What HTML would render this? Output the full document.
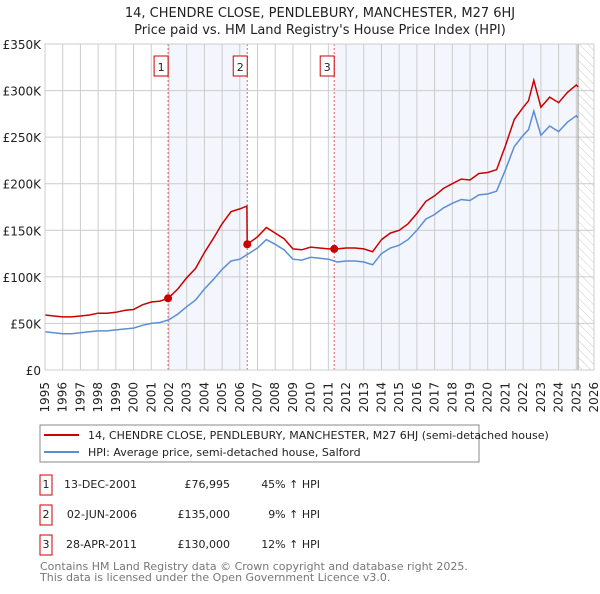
<!DOCTYPE html>
<html><head><meta charset="utf-8"><style>
body{margin:0;background:#fff;font-family:"DejaVu Sans","Liberation Sans",sans-serif;}
svg text{font-family:"DejaVu Sans","Liberation Sans",sans-serif;}
</style></head><body>
<svg id="c" width="600" height="590" xmlns="http://www.w3.org/2000/svg">
<text x="320" y="17" text-anchor="middle" font-size="13" fill="#222">14, CHENDRE CLOSE, PENDLEBURY, MANCHESTER, M27 6HJ</text>
<text x="320" y="34" text-anchor="middle" font-size="13" fill="#222">Price paid vs. HM Land Registry's House Price Index (HPI)</text>
<g id="plot"></g>
<g>
<rect x="40" y="425" width="439" height="37" fill="#fff" stroke="#888"/>
<line x1="44" y1="435" x2="79" y2="435" stroke="#cc0000" stroke-width="2"/>
<text x="88" y="439" font-size="11" fill="#222">14, CHENDRE CLOSE, PENDLEBURY, MANCHESTER, M27 6HJ (semi-detached house)</text>
<line x1="44" y1="452" x2="79" y2="452" stroke="#5b8fd4" stroke-width="2"/>
<text x="88" y="456" font-size="11" fill="#222">HPI: Average price, semi-detached house, Salford</text>
</g>
<g font-size="11" fill="#222">
<rect x="40" y="475" width="12" height="20" fill="#fff" stroke="#cc0000"/><text x="46" y="488" text-anchor="middle">1</text>
<text x="137" y="488" text-anchor="end">13-DEC-2001</text><text x="230" y="488" text-anchor="end">£76,995</text><text x="320" y="488" text-anchor="end">45% ↑ HPI</text>
<rect x="40" y="505" width="12" height="20" fill="#fff" stroke="#cc0000"/><text x="46" y="518" text-anchor="middle">2</text>
<text x="137" y="518" text-anchor="end">02-JUN-2006</text><text x="230" y="518" text-anchor="end">£135,000</text><text x="320" y="518" text-anchor="end">9% ↑ HPI</text>
<rect x="40" y="535" width="12" height="20" fill="#fff" stroke="#cc0000"/><text x="46" y="548" text-anchor="middle">3</text>
<text x="137" y="548" text-anchor="end">28-APR-2011</text><text x="230" y="548" text-anchor="end">£130,000</text><text x="320" y="548" text-anchor="end">12% ↑ HPI</text>
</g>
<text x="40" y="570" font-size="11" fill="#777">Contains HM Land Registry data © Crown copyright and database right 2025.</text>
<text x="40" y="581" font-size="11" fill="#777">This data is licensed under the Open Government Licence v3.0.</text>
</svg>
<script>
const yearsT=[1995,1995.5,1996,1996.5,1997,1997.5,1998,1998.5,1999,1999.5,2000,2000.5,2001,2001.5,2002,2002.5,2003,2003.5,2004,2004.5,2005,2005.5,2006,2006.5,2007,2007.5,2008,2008.5,2009,2009.5,2010,2010.5,2011,2011.5,2012,2012.5,2013,2013.5,2014,2014.5,2015,2015.5,2016,2016.5,2017,2017.5,2018,2018.5,2019,2019.5,2020,2020.5,2021,2021.5,2022,2022.3,2022.6,2023,2023.5,2024,2024.5,2025,2025.1];
const hpiValues=[41,40,39,39,40,41,42,42,43,44,45,48,50,51,54,60,68,75,87,97,108,117,119,125,131,140,135,129,119,118,121,120,119,116,117,117,116,113,125,131,134,140,150,162,167,174,179,183,182,188,189,192,215,240,252,258,278,252,262,256,266,273,271];
const propT=[1995,1995.5,1996,1996.5,1997,1997.5,1998,1998.5,1999,1999.5,2000,2000.5,2001,2001.5,2001.95,2002.5,2003,2003.5,2004,2004.5,2005,2005.5,2006,2006.4,2006.42,2006.5,2007,2007.5,2008,2008.5,2009,2009.5,2010,2010.5,2011,2011.33,2011.5,2012,2012.5,2013,2013.5,2014,2014.5,2015,2015.5,2016,2016.5,2017,2017.5,2018,2018.5,2019,2019.5,2020,2020.5,2021,2021.5,2022,2022.3,2022.6,2023,2023.5,2024,2024.5,2025,2025.1];
const propValues=[59,58,57,57,58,59,61,61,62,64,65,70,73,74,77,87,99,109,126,141,157,170,173,176,135,136,143,153,147,141,130,129,132,131,130,130,130,131,131,130,127,140,147,150,157,168,181,187,195,200,205,204,211,212,215,241,269,282,289,311,282,293,287,298,306,304];
const saleT=[2001.95,2006.42,2011.33];
const saleValues=[77,135,130];
const saleLabels=["1","2","3"];
const yTicks=[0,50,100,150,200,250,300,350];
const yTickLabels=["£0","£50K","£100K","£150K","£200K","£250K","£300K","£350K"];
const xYears=[1995,1996,1997,1998,1999,2000,2001,2002,2003,2004,2005,2006,2007,2008,2009,2010,2011,2012,2013,2014,2015,2016,2017,2018,2019,2020,2021,2022,2023,2024,2025,2026];
const NS="http://www.w3.org/2000/svg";
const X0=45,X1=594,Y0=370,Y1=44;
const xs=t=>X0+(t-1995)*(X1-X0)/31;
const ys=v=>Y0-v*(Y0-Y1)/350;
const g=document.getElementById('plot');
function mk(tag,attrs){const e=document.createElementNS(NS,tag);for(const k in attrs)e.setAttribute(k,attrs[k]);g.appendChild(e);return e;}
let e;
e=mk('rect',{x:xs(saleT[0]),y:Y1,width:xs(saleT[1])-xs(saleT[0]),height:Y0-Y1,fill:'#f3f6fd'});


e=mk('rect',{x:xs(saleT[2]),y:Y1,width:xs(2025.1)-xs(saleT[2]),height:Y0-Y1,fill:'#f3f6fd'});


const defs=document.createElementNS(NS,'defs');defs.innerHTML='<pattern id="h" width="6" height="6" patternUnits="userSpaceOnUse" patternTransform="rotate(-45)"><line x1="0" y1="0" x2="0" y2="6" stroke="#ccc" stroke-width="1"/></pattern>';g.appendChild(defs);
e=mk('rect',{x:xs(2025.1),y:Y1,width:X1-xs(2025.1),height:Y0-Y1,fill:'url(#h)'});


yTicks.forEach((v,i)=>{
 e=mk('line',{x1:X0,x2:X1,y1:ys(v),y2:ys(v),stroke:'#ccc','stroke-width':1});
 
 
 e=mk('text',{x:X0-4,y:ys(v)+5,'text-anchor':'end','font-size':12,fill:'#222'});e.textContent=yTickLabels[i];
 
 
});
xYears.forEach(yr=>{
 e=mk('line',{x1:xs(yr),x2:xs(yr),y1:Y1,y2:Y0,stroke:'#ccc','stroke-width':1});
 
 
 e=mk('text',{x:0,y:0,'text-anchor':'end','font-size':12,fill:'#222',transform:`translate(${xs(yr)+4},382) rotate(-90)`});e.textContent=yr;
 
 
});
e=mk('line',{x1:xs(2025.1),x2:xs(2025.1),y1:Y1,y2:Y0,stroke:'#999','stroke-width':1});


saleT.forEach((t,i)=>{
 e=mk('line',{x1:xs(t),x2:xs(t),y1:Y1,y2:Y0,stroke:'#e06060','stroke-width':1,'stroke-dasharray':'2,2'});
 
 
 e=mk('rect',{x:xs(t)-14,y:56,width:14,height:20,fill:'#fff',stroke:'#cc0000'});
 
 
 e=mk('text',{x:xs(t)-7,y:71,'text-anchor':'middle','font-size':11,fill:'#222'});e.textContent=saleLabels[i];
 
 
});
e=mk('path',{d:yearsT.map((t,i)=>(i?'L':'M')+xs(t).toFixed(1)+','+ys(hpiValues[i]).toFixed(1)).join(''),fill:'none',stroke:'#5b8fd4','stroke-width':1.5});


e=mk('path',{d:propT.map((t,i)=>(i?'L':'M')+xs(t).toFixed(1)+','+ys(propValues[i]).toFixed(1)).join(''),fill:'none',stroke:'#cc0000','stroke-width':1.5});


saleT.forEach((t,i)=>{
 e=mk('circle',{cx:xs(t),cy:ys(saleValues[i]),r:4,fill:'#cc0000'});
 
 
});
e=mk('rect',{x:X0,y:Y1,width:X1-X0,height:Y0-Y1,fill:'none',stroke:'#ccc'});


</script>
</body></html>
